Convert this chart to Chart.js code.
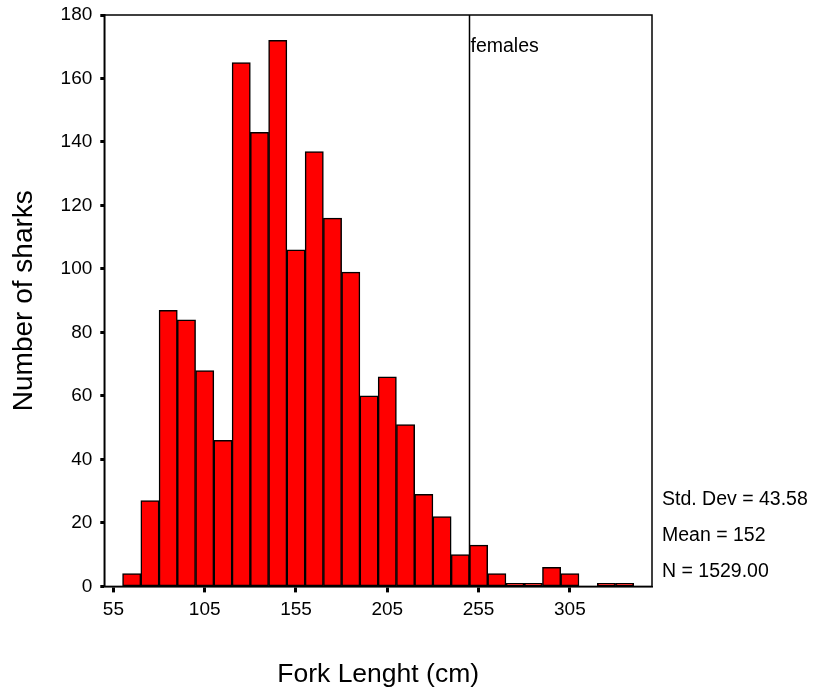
<!DOCTYPE html>
<html>
<head>
<meta charset="utf-8">
<script src="https://cdn.jsdelivr.net/npm/chart.js@4/dist/chart.umd.min.js"></script>
<style>
  html, body { margin: 0; padding: 0; background: #fff; }
  canvas { display: block; }
</style>
</head>
<body>
<canvas id="myChart" width="815" height="693"></canvas>
<script>
    // bin centres (cm), 10 cm wide
    const binCenters = [55, 65, 75, 85, 95, 105, 115, 125, 135, 145,
                        155, 165, 175, 185, 195, 205, 215, 225, 235, 245,
                        255, 265, 275, 285, 295, 305, 315, 325, 335, 345];
    const sharkCounts = [0, 4, 27, 87, 84, 68, 46, 165, 143, 172,
                         106, 137, 116, 99, 60, 66, 51, 29, 22, 10,
                         13, 4, 1, 1, 6, 4, 0, 1, 1, 0];
    const xTickLabels = ['55', '105', '155', '205', '255', '305'];
    const yTicks = [0, 20, 40, 60, 80, 100, 120, 140, 160, 180];
    const statLines = ['Std. Dev = 43.58', 'Mean = 152', 'N = 1529.00'];
    const femaleCutoff = 250;
    const femaleLabel = 'females';

    const FONT = '"Liberation Sans", Arial, sans-serif';

    // plot frame, females cut line and summary stats
    const extras = {
        id: 'extras',
        afterDatasetsDraw(chart) {
            const { ctx, chartArea: a, scales: { x } } = chart;
            ctx.save();
            ctx.strokeStyle = '#000';
            ctx.lineWidth = 1.5;
            ctx.strokeRect(a.left, a.top, a.right - a.left, a.bottom - a.top);

            const idx = (femaleCutoff - binCenters[0]) / (binCenters[1] - binCenters[0]);
            const lx = Math.round(x.getPixelForValue(idx)) + 0.5;
            ctx.beginPath();
            ctx.moveTo(lx, a.top);
            ctx.lineTo(lx, a.bottom);
            ctx.stroke();

            ctx.fillStyle = '#000';
            ctx.font = '19.5px ' + FONT;
            ctx.textBaseline = 'middle';
            ctx.textAlign = 'left';
            ctx.fillText(femaleLabel, lx + 1, a.top + 32);

            statLines.forEach((s, i) => {
                ctx.fillText(s, a.right + 10, a.bottom - 14.5 - (statLines.length - 1 - i) * 36);
            });
            ctx.restore();
        }
    };

    const noPad = s => { s.paddingTop = 0; s.paddingBottom = 0; };

    const ctx = document.getElementById('myChart').getContext('2d');
    const chart = new Chart(ctx, {
        type: 'bar',
        data: {
            labels: binCenters.map(String),
            datasets: [{
                data: sharkCounts,
                backgroundColor: '#ff0000',
                borderColor: '#000',
                borderWidth: 1.5,
                borderSkipped: false,
                barPercentage: 1,
                categoryPercentage: 1
            }]
        },
        options: {
            responsive: false,
            animation: false,
            devicePixelRatio: 1,
            layout: { padding: { left: 7, right: 163, top: 15, bottom: 0 } },
            plugins: { legend: { display: false }, tooltip: { enabled: false } },
            scales: {
                x: {
                    grid: {
                        offset: false,
                        drawOnChartArea: false,
                        tickLength: 6,
                        tickWidth: 3,
                        color: c => xTickLabels.includes(String(binCenters[c.index])) ? '#000' : 'rgba(0,0,0,0)'
                    },
                    border: { color: '#000', width: 1.5 },
                    ticks: {
                        autoSkip: false,
                        maxRotation: 0,
                        padding: 6,
                        color: '#000',
                        font: { family: FONT, size: 19 },
                        callback: (v, i) => xTickLabels.includes(String(binCenters[i])) ? String(binCenters[i]) : ''
                    },
                    title: {
                        display: true,
                        text: 'Fork Lenght (cm)',
                        color: '#000',
                        font: { family: FONT, size: 26.5 },
                        padding: { top: 32, bottom: 2 }
                    }
                },
                y: {
                    min: 0,
                    max: 180,
                    afterBuildTicks: s => { s.ticks = yTicks.map(v => ({ value: v })); },
                    afterFit: noPad,
                    grid: {
                        drawOnChartArea: false,
                        tickLength: 4,
                        tickWidth: 3,
                        color: '#000'
                    },
                    border: { color: '#000', width: 1.5 },
                    ticks: {
                        padding: 8,
                        color: '#000',
                        font: { family: FONT, size: 19 }
                    },
                    title: {
                        display: true,
                        text: 'Number of sharks',
                        color: '#000',
                        font: { family: FONT, size: 28 },
                        padding: { top: 0, bottom: 12 }
                    }
                }
            }
        },
        plugins: [extras]
    });
</script>
</body>
</html>
